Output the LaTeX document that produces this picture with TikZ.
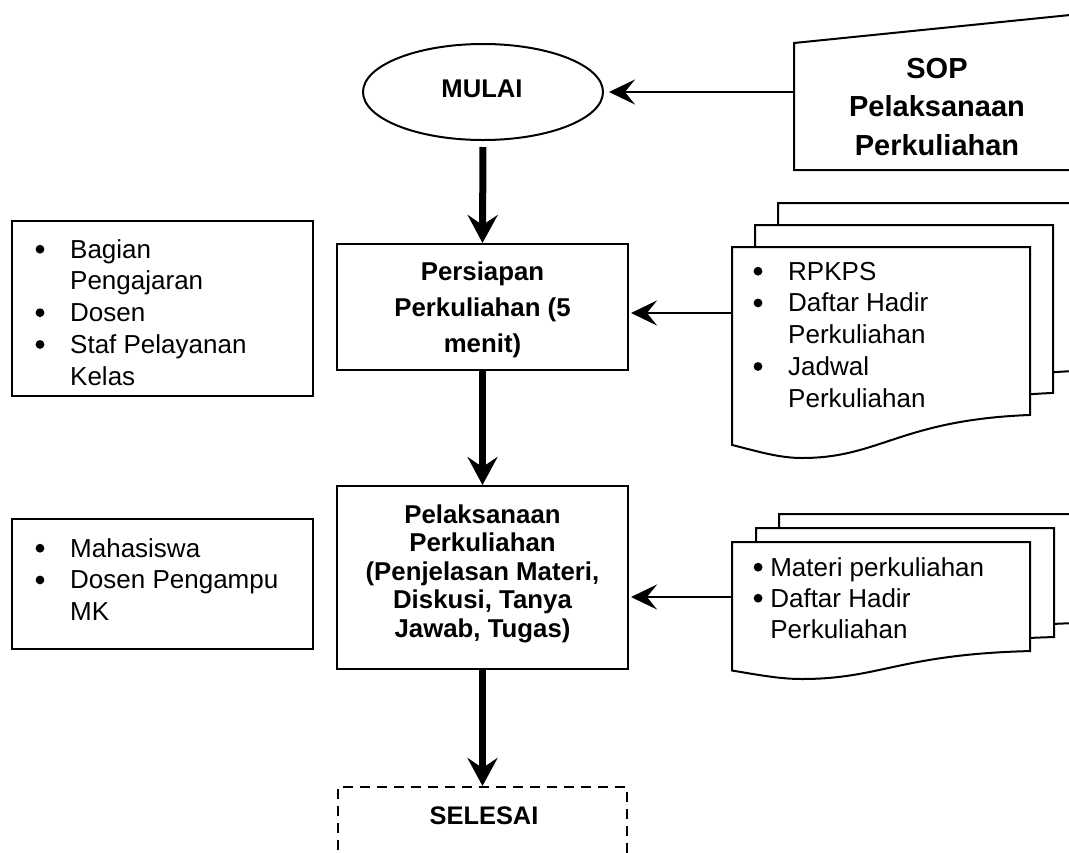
\documentclass[tikz,border=0pt]{standalone}
\usepackage{fontspec}
\setmainfont{Liberation Sans}
\usetikzlibrary{arrows.meta,shapes.geometric}
\tikzset{
  boxline/.style={draw=black, line width=2pt},
  flowbox/.style={boxline, rectangle, inner sep=0pt},
  bodytxt/.style={inner sep=0pt, anchor=north west, align=left, font=\fontsize{26}{31.75}\selectfont},
  boldtxt/.style={inner sep=0pt, anchor=north, align=center},
  flowarrow/.style={line width=7pt, -{Stealth[length=28pt,width=30pt,inset=10pt]}},
  feedarrow/.style={line width=2.7pt, -{Stealth[length=26pt,width=25pt,inset=10pt]}},
}
\newcommand\docpage[4]{%
  \draw[boxline, fill=white] (#1,#2) -- ({#1+#3},#2) -- ({#1+#3},{#2+0.796*#4})
    .. controls ({#1+0.564*#3},{#2+0.82*#4}) and ({#1+0.497*#3},{#2+#4}) .. ({#1+0.235*#3},{#2+#4})
    .. controls ({#1+0.161*#3},{#2+#4}) and ({#1+0.094*#3},{#2+0.972*#4}) .. (#1,{#2+0.938*#4}) -- cycle;}
\newcommand\dotmark{\tikz[baseline=0pt]\fill[black] (4.5pt,9pt) circle[radius=4.4pt];}
\newcommand\bl{\strut\makebox[34.6pt][l]{\dotmark}}
\newcommand\ind{\strut\hspace*{34.6pt}}
\newcommand\blb{\strut\makebox[16.6pt][l]{\dotmark}}
\newcommand\indb{\strut\hspace*{16.6pt}}
\begin{document}
\begin{tikzpicture}[x=1pt,y=-1pt]
\useasboundingbox (0,0) rectangle (1069,852);
\clip (0,0) rectangle (1069,852);
\fill[white] (0,0) rectangle (1069,852);

% SOP manual input shape
\draw[boxline, fill=white] (1080,14) -- (794,43) -- (794,170) -- (1080,170);
\coordinate (sopL) at (794,92);
\node[boldtxt, font=\fontsize{29}{38.5}\selectfont\bfseries] (sopT) at (937,51.05)
  {\strut SOP\\\strut Pelaksanaan\\\strut Perkuliahan};

% MULAI
\node[ellipse, boxline, minimum width=240pt, minimum height=96pt, inner sep=0pt] (mulai) at (483,92) {};
\node[inner sep=0pt, anchor=base, font=\fontsize{25.6}{28}\selectfont\bfseries] (mulaiT) at (482,97) {MULAI};

% Persiapan
\node[flowbox, minimum width=291pt, minimum height=126pt] (persiapan) at (482.5,307) {};
\node[boldtxt, font=\fontsize{25.8}{36}\selectfont\bfseries] (persiapanT) at (482.5,254.8)
  {\strut Persiapan\\\strut Perkuliahan (5\\\strut menit)};

% Pelaksanaan
\node[flowbox, minimum width=291pt, minimum height=183pt] (pelaksanaan) at (482.5,577.5) {};
\node[boldtxt, font=\fontsize{25.8}{28.5}\selectfont\bfseries] (pelaksanaanT) at (482.5,503.05)
  {\strut Pelaksanaan\\\strut Perkuliahan\\\strut (Penjelasan Materi,\\\strut Diskusi, Tanya\\\strut Jawab, Tugas)};

% SELESAI
\node[flowbox, dash pattern=on 10pt off 7pt, minimum width=289pt, minimum height=100pt] (selesai) at (482.5,837) {};
\node[inner sep=0pt, anchor=base, font=\fontsize{25.4}{28}\selectfont\bfseries] (selesaiT) at (484,824) {SELESAI};

% Left boxes
\node[flowbox, minimum width=301pt, minimum height=175pt] (left1) at (162.5,308.5) {};
\node[bodytxt] (left1T) at (35.4,235.775)
  {\bl Bagian\\\ind Pengajaran\\\bl Dosen\\\bl Staf Pelayanan\\\ind Kelas};
\node[flowbox, minimum width=301pt, minimum height=130pt] (left2) at (162.5,584) {};
\node[bodytxt] (left2T) at (35.4,534.775)
  {\bl Mahasiswa\\\bl Dosen Pengampu\\\ind MK};

% Document stack 1
\docpage{778}{203}{298}{211}
\docpage{755}{225}{298}{211}
\docpage{732}{247}{298}{211}
\coordinate (doc1L) at (732,313);
\node[bodytxt] (doc1T) at (753.4,257.775)
  {\bl RPKPS\\\bl Daftar Hadir\\\ind Perkuliahan\\\bl Jadwal\\\ind Perkuliahan};

% Document stack 2
\docpage{779}{514}{298}{137}
\docpage{756}{528}{298}{137}
\docpage{732}{542}{298}{137}
\coordinate (doc2L) at (732,597);
\node[bodytxt, font=\fontsize{26}{31}\selectfont] (doc2T) at (753.5,554.3)
  {\blb Materi perkuliahan\\\blb Daftar Hadir\\\indb Perkuliahan};

% Connectors
\draw[feedarrow, shorten >=5pt] (sopL) -- (mulai.east);
\draw[flowarrow, shorten <=6pt] (mulai.south) -- (persiapan.north);
\draw[flowarrow] (persiapan.south) -- (pelaksanaan.north);
\draw[flowarrow] (pelaksanaan.south) -- (selesai.north);
\draw[feedarrow, shorten >=2pt] (doc1L) -- (doc1L -| persiapan.east);
\draw[feedarrow, shorten >=2pt] (doc2L) -- (doc2L -| pelaksanaan.east);
\end{tikzpicture}
\end{document}
